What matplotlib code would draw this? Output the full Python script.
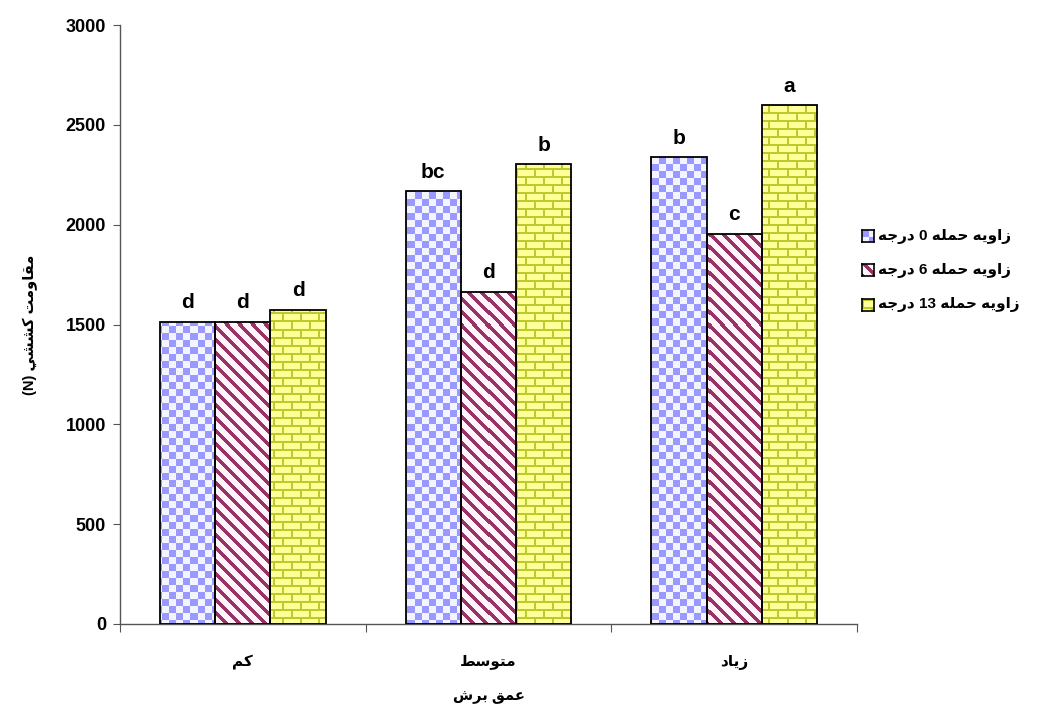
import numpy as np
import matplotlib
matplotlib.use('Agg')
import matplotlib.pyplot as plt
from matplotlib.colors import to_rgb

# data
categories = ['كم', 'متوسط', 'زياد']
series_names = ['زاويه حمله 0 درجه', 'زاويه حمله 6 درجه', 'زاويه حمله 13 درجه']
angle0 = [1515, 2170, 2340]
angle6 = [1515, 1665, 1955]
angle13 = [1575, 2305, 2600]
letters0 = ['d', 'bc', 'b']
letters6 = ['d', 'd', 'c']
letters13 = ['d', 'b', 'a']
y_ticks = [0, 500, 1000, 1500, 2000, 2500, 3000]
x_label = 'عمق برش'
y_label = 'مقاومت كششي (N)'

# simple arabic shaping (matplotlib has no bidi / shaping)
FORMS = {
    'ا': ('\uFE8D', '\uFE8E', None, None),
    'ب': ('\uFE8F', '\uFE90', '\uFE91', '\uFE92'),
    'ت': ('\uFE95', '\uFE96', '\uFE97', '\uFE98'),
    'ج': ('\uFE9D', '\uFE9E', '\uFE9F', '\uFEA0'),
    'ح': ('\uFEA1', '\uFEA2', '\uFEA3', '\uFEA4'),
    'د': ('\uFEA9', '\uFEAA', None, None),
    'ر': ('\uFEAD', '\uFEAE', None, None),
    'ز': ('\uFEAF', '\uFEB0', None, None),
    'س': ('\uFEB1', '\uFEB2', '\uFEB3', '\uFEB4'),
    'ش': ('\uFEB5', '\uFEB6', '\uFEB7', '\uFEB8'),
    'ط': ('\uFEC1', '\uFEC2', '\uFEC3', '\uFEC4'),
    'ع': ('\uFEC9', '\uFECA', '\uFECB', '\uFECC'),
    'ق': ('\uFED5', '\uFED6', '\uFED7', '\uFED8'),
    'ك': ('\uFED9', '\uFEDA', '\uFEDB', '\uFEDC'),
    'ل': ('\uFEDD', '\uFEDE', '\uFEDF', '\uFEE0'),
    'م': ('\uFEE1', '\uFEE2', '\uFEE3', '\uFEE4'),
    'ه': ('\uFEE9', '\uFEEA', '\uFEEB', '\uFEEC'),
    'و': ('\uFEED', '\uFEEE', None, None),
    'ي': ('\uFEF1', '\uFEF2', '\uFEF3', '\uFEF4'),
}


def shape_word(w):
    out = []
    for i, ch in enumerate(w):
        f = FORMS[ch]
        prev = w[i - 1] if i > 0 else None
        nxt = w[i + 1] if i + 1 < len(w) else None
        jp = prev is not None and FORMS[prev][2] is not None
        jn = nxt is not None and f[2] is not None
        if jp and jn:
            out.append(f[3])
        elif jp:
            out.append(f[1])
        elif jn:
            out.append(f[2])
        else:
            out.append(f[0])
    return ''.join(reversed(out))


def rtl(text):
    toks = [shape_word(t) if t and t[0] in FORMS else t for t in text.split(' ')]
    return ' '.join(reversed(toks))


# fill patterns (pixel based)
def checker(h, w, s=7):
    r, c = np.mgrid[0:h, 0:w]
    m = ((r // s + c // s) % 2) == 0
    img = np.ones((h, w, 3))
    img[:] = to_rgb('#f4f4ff')
    img[m] = to_rgb('#9999ff')
    return img


def stripes(h, w, p=13, t=5):
    r, c = np.mgrid[0:h, 0:w]
    m = ((c - r) % p) < t
    img = np.ones((h, w, 3))
    img[:] = to_rgb('#fff4fa')
    img[m] = to_rgb('#993366')
    return img


def bricks(h, w, bh=8, bw=18):
    r, c = np.mgrid[0:h, 0:w]
    row = r // bh
    shift = (row % 2) * (bw // 2)
    m = ((r % bh) < 2) | (((c + shift) % bw) < 2)
    img = np.empty((h, w, 3))
    img[:] = to_rgb('#ffff99')
    img[m] = to_rgb('#bccb2c')
    return img


plt.rcParams['font.family'] = ['Liberation Sans', 'DejaVu Sans']
plt.rcParams['font.weight'] = 'bold'

fig = plt.figure(figsize=(10.41, 7.04), dpi=100)
ax = fig.add_axes([120 / 1041, 1 - 624 / 704, 737 / 1041, 599 / 704])

series = [angle0, angle6, angle13]
letters = [letters0, letters6, letters13]
patterns = [checker, stripes, bricks]
x = np.arange(len(categories))
width = 0.225

xlim = (-0.5, len(categories) - 0.5)
ylim = (0, 3000)
W, H = 737, 599

for i, (vals, labs, pat) in enumerate(zip(series, letters, patterns)):
    bars = ax.bar(x + (i - 1) * width, vals, width, facecolor='none',
                  edgecolor='black', linewidth=1.3, zorder=3)
    img = pat(H, W)
    for b, lab in zip(bars, labs):
        im = ax.imshow(img, extent=(xlim[0], xlim[1], ylim[0], ylim[1]),
                       aspect='auto', interpolation='nearest', zorder=2)
        im.set_clip_path(b)
        ax.annotate(lab, (b.get_x() + b.get_width() / 2, b.get_height()),
                    xytext=(0, 9.5), textcoords='offset points',
                    ha='center', va='baseline', fontsize=15, fontweight='bold')

ax.set_xlim(*xlim)
ax.set_ylim(*ylim)

for s in ['top', 'right']:
    ax.spines[s].set_visible(False)
for s in ['left', 'bottom']:
    ax.spines[s].set_color('#555555')
    ax.spines[s].set_linewidth(1)

ax.set_yticks(y_ticks)
ax.set_yticklabels([str(v) for v in y_ticks], fontsize=13, fontweight='bold')
ax.tick_params(axis='y', length=5, color='#555555', pad=5)

ax.set_xticks(np.arange(len(categories) + 1) - 0.5)
ax.set_xticklabels([])
ax.tick_params(axis='x', which='major', length=6, color='#555555')
ax.set_xticks(x, minor=True)
ax.set_xticklabels([rtl(c) for c in categories], minor=True,
                   fontsize=11, fontweight='bold')
ax.tick_params(axis='x', which='minor', length=0, pad=22)

ax.set_xlabel(rtl(x_label), fontsize=10.5, fontweight='bold')
ax.xaxis.set_label_coords(0.5, -0.11)
ax.set_ylabel(rtl(y_label), fontsize=10.5, fontweight='bold')
ax.yaxis.set_label_coords(-0.111, 0.5)

# legend drawn by hand so swatches carry the same fill patterns
leg_y = [236, 270, 305]
for name, pat, yc in zip(series_names, patterns, leg_y):
    sw = fig.add_axes([862 / 1041, 1 - (yc + 6) / 704, 12 / 1041, 12 / 704])
    sw.imshow(pat(12, 12), interpolation='nearest', aspect='auto')
    sw.set_xticks([])
    sw.set_yticks([])
    for s in sw.spines.values():
        s.set_linewidth(1.2)
        s.set_color('black')
    fig.text(878 / 1041, 1 - yc / 704, rtl(name), ha='left', va='center',
             fontsize=11, fontweight='bold')

fig.savefig('out.png', dpi=100)
